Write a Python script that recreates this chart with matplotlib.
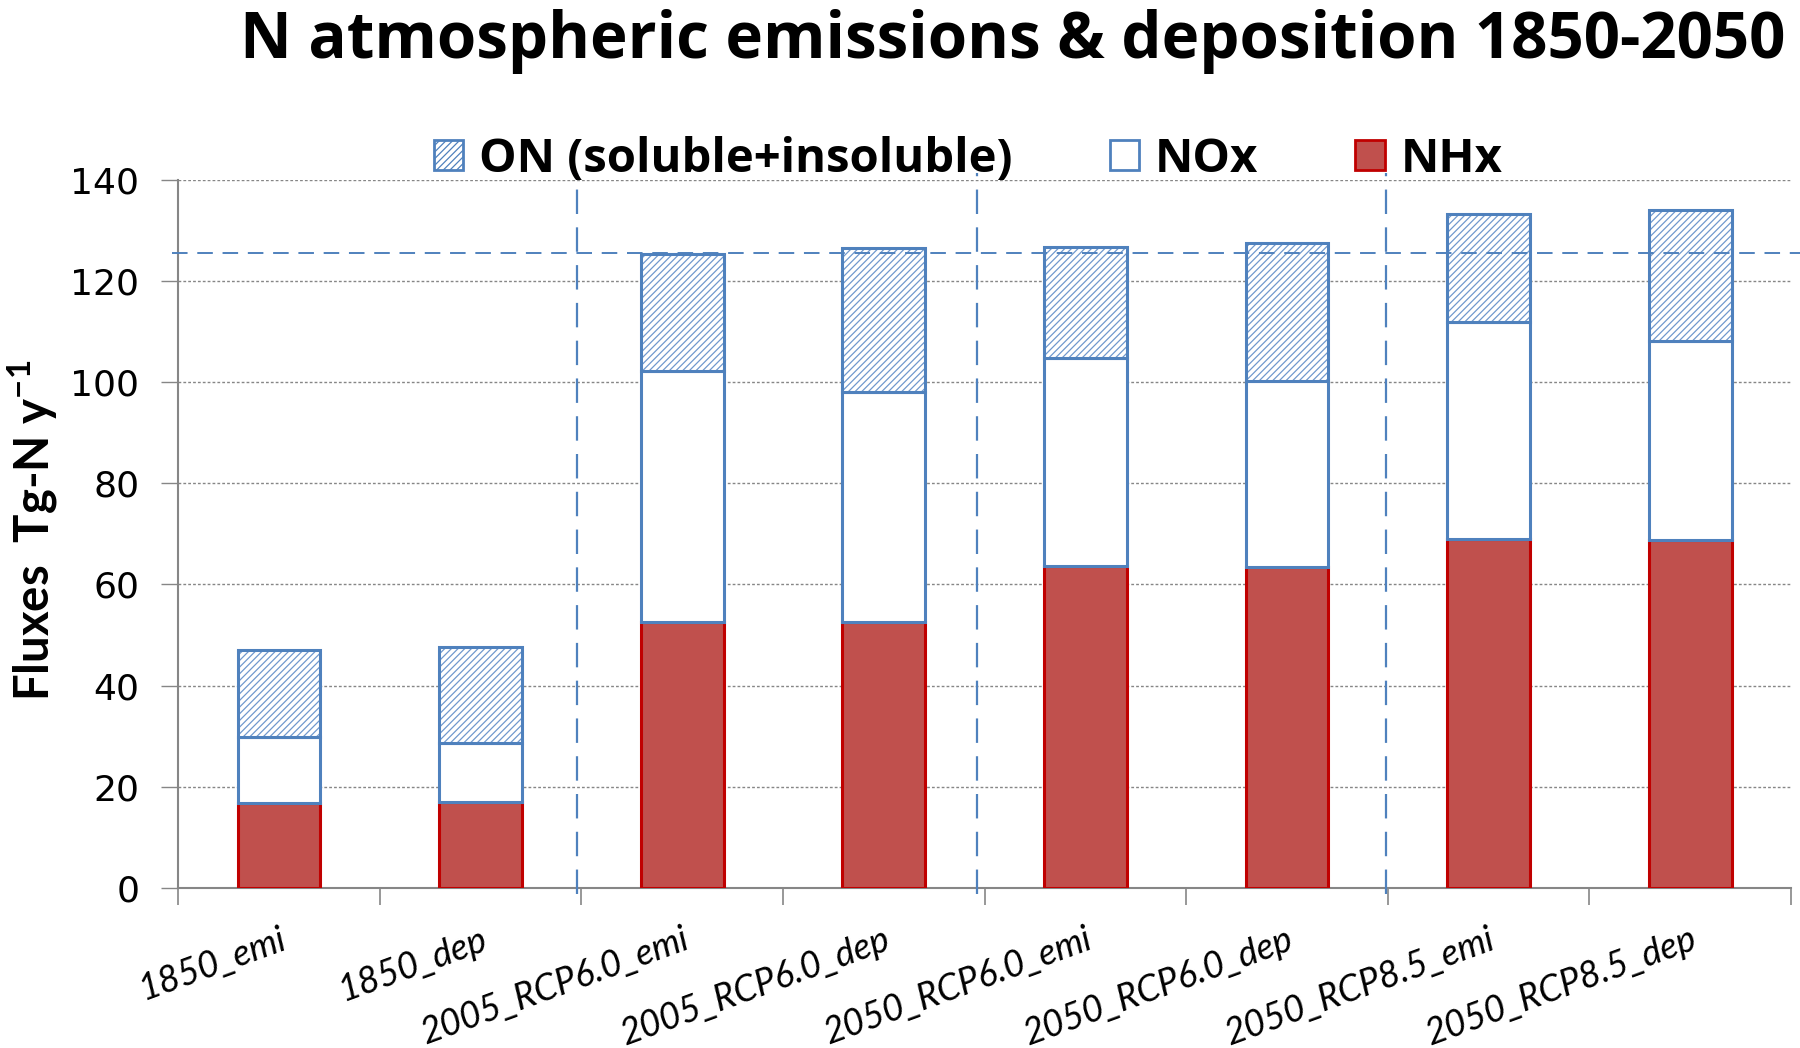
import matplotlib
matplotlib.use("Agg")
import matplotlib.pyplot as plt
from matplotlib.patches import Patch
import numpy as np

categories = ["1850_emi", "1850_dep", "2005_RCP6.0_emi", "2005_RCP6.0_dep",
              "2050_RCP6.0_emi", "2050_RCP6.0_dep", "2050_RCP8.5_emi", "2050_RCP8.5_dep"]
nhx = [16.8, 17.0, 52.5, 52.5, 63.6, 63.4, 69.0, 68.9]
nox = [13.0, 11.6, 49.7, 45.5, 41.2, 36.8, 43.0, 39.3]
on_ = [17.2, 19.1, 23.3, 28.5, 22.0, 27.3, 21.4, 25.9]
ref_level = 125.7
yticks = [0, 20, 40, 60, 80, 100, 120, 140]

BLUE = "#4F81BD"
HATCH_BLUE = "#7098CE"
RED_FILL = "#C0504D"
RED_EDGE = "#C00000"
GRAY = "#868686"

plt.rcParams["hatch.linewidth"] = 0.9
plt.rcParams["mathtext.fontset"] = "custom"
plt.rcParams["mathtext.bf"] = "Lato:bold"
plt.rcParams["mathtext.rm"] = "Lato:bold"

fig = plt.figure(figsize=(18, 10.48), dpi=100)
ax = fig.add_axes([0.099, 0.153, 0.896, 0.675])

x = np.arange(len(categories)) + 0.5
w = 0.41
nhx_a = np.array(nhx)
nox_a = np.array(nox)
on_a = np.array(on_)

ax.bar(x, nhx_a, w, color=RED_FILL, edgecolor=RED_EDGE, linewidth=2.2, zorder=3)
ax.bar(x, nox_a, w, bottom=nhx_a, color="white", edgecolor=BLUE, linewidth=2.2, zorder=3)
ax.bar(x, on_a, w, bottom=nhx_a + nox_a, color="white", edgecolor=HATCH_BLUE,
       linewidth=0, hatch="/////", zorder=3)
ax.bar(x, on_a, w, bottom=nhx_a + nox_a, fill=False, edgecolor=BLUE, linewidth=2.2, zorder=4)

ax.set_xlim(0, len(categories))
ax.set_ylim(0, 140)
ax.set_yticks(yticks)
ax.set_yticklabels([str(t) for t in yticks], fontsize=26, family="DejaVu Sans")
ax.yaxis.grid(True, color=GRAY, linestyle=(0, (2, 1.5)), linewidth=1.0, zorder=0)
ax.set_axisbelow(True)

ax.set_xticks(np.arange(len(categories) + 1))
ax.set_xticklabels([])
ax.set_xticks(x, minor=True)
ax.set_xticklabels(categories, minor=True, rotation=20, ha="right", va="top",
                   rotation_mode="anchor", fontsize=26, family="Lato", style="italic")
ax.tick_params(axis="x", which="minor", length=0, pad=25)
ax.tick_params(axis="x", which="major", length=12, color=GRAY, width=1.2)
ax.tick_params(axis="y", length=12, color=GRAY, width=1.0, pad=16)

for s in ["top", "right"]:
    ax.spines[s].set_visible(False)
for s in ["left", "bottom"]:
    ax.spines[s].set_color(GRAY)
    ax.spines[s].set_linewidth(1.5)

# reference line and group dividers
ax.plot([-0.03, 8.05], [ref_level, ref_level], color=BLUE, linestyle=(0, (8, 5)),
        linewidth=1.4, clip_on=False, zorder=5)
for xd in [1.98, 3.96, 5.99]:
    ax.plot([xd, xd], [-1.3, 141.5], color=BLUE, linestyle=(0, (11, 6)),
            linewidth=1.6, clip_on=False, zorder=5)

fig.text(32 / 1800, 1 - 530 / 1048, "Fluxes  Tg-N y$^{\\mathbf{-1}}$", rotation=90,
         ha="center", va="center", fontsize=34, fontweight="bold", family="Lato")

handles = [
    Patch(facecolor="white", edgecolor=BLUE, hatch="/////", linewidth=2.0),
    Patch(facecolor="white", edgecolor=BLUE, linewidth=2.0),
    Patch(facecolor=RED_FILL, edgecolor=RED_EDGE, linewidth=2.0),
]
labels = ["ON (soluble+insoluble)", "NOx", "NHx"]
fig.legend(handles, labels, loc="center", bbox_to_anchor=(0.538, 0.848), ncol=3,
           frameon=False, prop={"family": "Open Sans", "weight": "bold", "size": 34},
           handlelength=0.62, handleheight=0.62, handletextpad=0.34, columnspacing=2.05)

fig.text(0.9917, 0.945, "N atmospheric emissions & deposition 1850-2050",
         ha="right", va="baseline", fontsize=45.8, fontweight="bold", family="Open Sans")

fig.savefig("out.png", dpi=100, facecolor="white")
